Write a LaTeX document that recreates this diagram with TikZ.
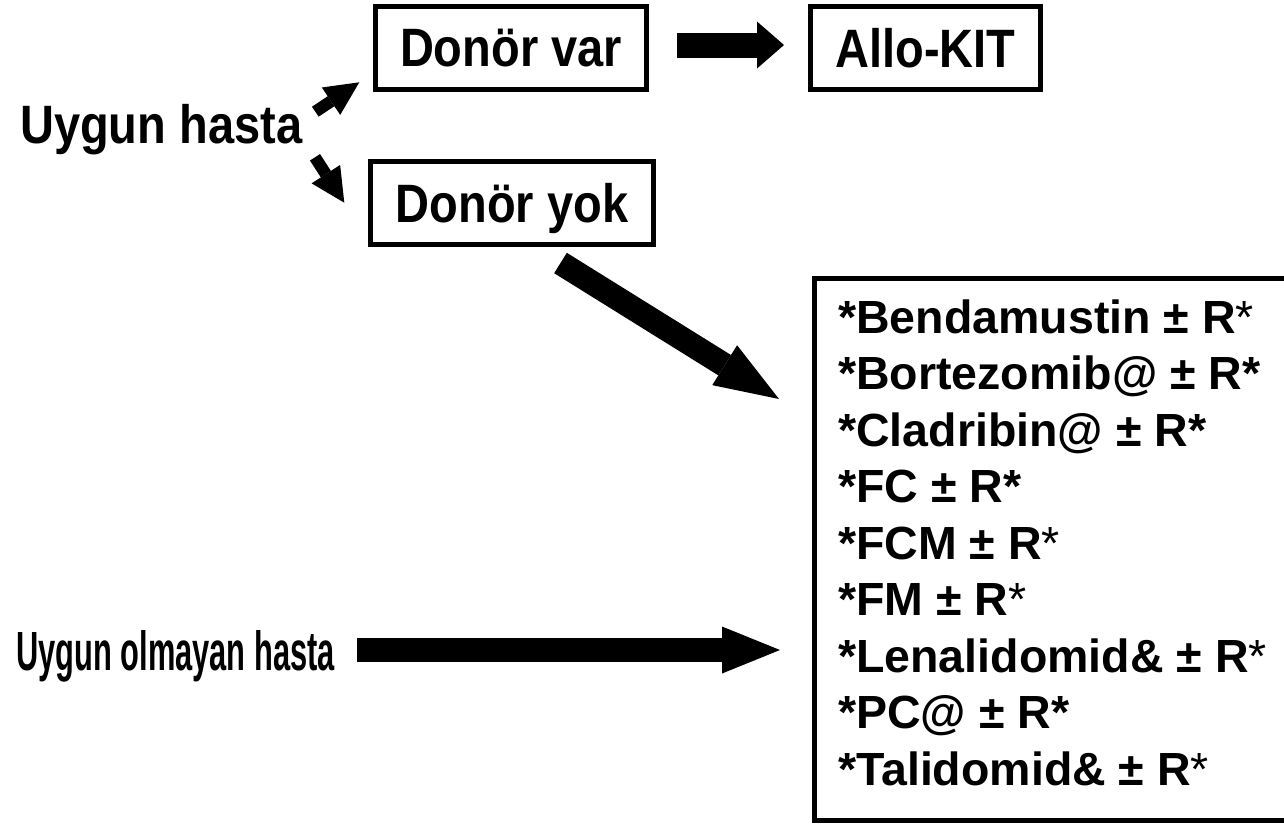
\documentclass[tikz,border=0pt]{standalone}
\usepackage{fontspec}
\usepackage{graphicx}
\setmainfont{Liberation Sans}
\usetikzlibrary{arrows.meta}
\newcommand\bigf{\fontsize{47}{56}\selectfont\bfseries}
\newcommand\listf{\fontsize{46.5}{56}\selectfont\bfseries}
\newcommand\lbl[1]{\raisebox{0pt}[\height][0pt]{\scalebox{1}[1.15]{\bigf #1}}}
\newcommand\lt{{\mdseries*}}
\tikzset{
  tbox/.style={draw, line width=5pt, inner sep=0pt},
  txt/.style={anchor=base west, inner sep=0pt},
  li/.style={anchor=base west, inner sep=0pt, font=\listf},
  barrow/.style n args={3}{line width=#1, line cap=butt,
    -{Triangle[width=#2, length=#3, line width=0pt]}},
}
\begin{document}
\begin{tikzpicture}[x=1pt, y=-1pt]
\clip (0,0) rectangle (1284,823);
\fill[white] (0,0) rectangle (1284,823);

% boxes
\node[tbox, minimum width=271pt, minimum height=83pt] (varbox) at (511,48) {\lbl{Donör var}};
\node[tbox, minimum width=230pt, minimum height=83pt] (allobox) at (925.5,48) {\lbl{Allo-KIT}};
\node[tbox, minimum width=283pt, minimum height=83pt] (yokbox) at (512,203) {\lbl{Donör yok}};
\node[tbox, minimum width=477.5pt, minimum height=542pt] (listbox) at (1053.25,549.5) {};

% free labels
\node[txt] (hasta) at (20,143) {\scalebox{1}[1.15]{\bigf Uygun hasta}};
\node[txt] (olmayan) at (16,670) {\scalebox{0.67}[1.2]{\fontsize{46}{54}\selectfont\bfseries Uygun olmayan hasta}};

% list
\node[li] (l1) at (838,333)   {*Bendamustin ± R\lt};
\node[li] (l2) at (838,389.5) {*Bortezomib@ ± R*};
\node[li] (l3) at (838,446)   {*Cladribin@ ± R*};
\node[li] (l4) at (838,502.5) {*FC ± R*};
\node[li] (l5) at (838,559)   {*FCM ± R\lt};
\node[li] (l6) at (838,615.5) {*FM ± R\lt};
\node[li] (l7) at (838,672)   {*Lenalidomid\& ± R\lt};
\node[li] (l8) at (838,728.5) {*PC@ ± R*};
\node[li] (l9) at (838,785)   {*Talidomid\& ± R\lt};

% arrow end points
\coordinate (aS) at (677,45);
\coordinate (aE) at (784,45);
\coordinate (bS) at (315.3,111.7);
\coordinate (bE) at (359.3,82.3);
\coordinate (cS) at (315,157.3);
\coordinate (cE) at (344.3,202.7);
\coordinate (dS) at (560.5,263);
\coordinate (dE) at (779,399);
\coordinate (eS) at (357,650);
\coordinate (eE) at (780,650);

% arrows
\draw[barrow={25pt}{47pt}{27pt}] (aS) -- (aE);
\draw[barrow={12pt}{33pt}{34pt}] (bS) -- (bE);
\draw[barrow={12pt}{34pt}{34pt}] (cS) -- (cE);
\draw[barrow={24pt}{47pt}{64pt}] (dS) -- (dE);
\draw[barrow={24pt}{47pt}{58pt}] (eS) -- (eE);
\end{tikzpicture}
\end{document}
